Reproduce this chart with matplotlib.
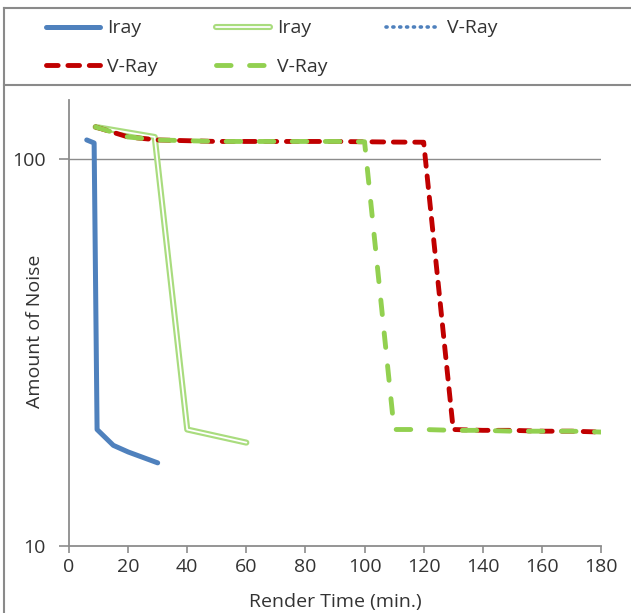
import matplotlib
matplotlib.use("Agg")
import matplotlib.pyplot as plt
import matplotlib.patheffects as pe
from matplotlib.lines import Line2D

plt.rcParams['font.family'] = ['Open Sans', 'DejaVu Sans']

# ---- data ----
iray_blue_x = [6, 8.5, 9.5, 15, 20, 30]
iray_blue_y = [112, 110, 20, 18.2, 17.5, 16.4]

iray_green_x = [9, 29, 40, 60]
iray_green_y = [121, 114, 20, 18.5]

vray_blue_x = []
vray_blue_y = []

vray_red_x = [9, 20, 30, 40, 50, 60, 70, 80, 90, 100, 110, 120, 130, 140, 150, 160, 170, 180]
vray_red_y = [121, 114, 112, 111.5, 111, 111, 111, 111, 111, 110.8, 110.6, 110.5,
              20.0, 19.9, 19.9, 19.8, 19.8, 19.7]

vray_green_x = [9, 20, 30, 40, 50, 60, 70, 80, 90, 100, 110, 120, 130, 140, 150, 160, 170, 180]
vray_green_y = [121, 114, 112, 111.5, 111, 111, 111, 111, 111, 110.8,
                20.0, 20.0, 19.9, 19.9, 19.8, 19.8, 19.8, 19.7]

labels = ["Iray", "Iray", "V-Ray", "V-Ray", "V-Ray"]
x_ticks = [0, 20, 40, 60, 80, 100, 120, 140, 160, 180]
y_ticks = [10, 100]

W, H = 631, 613
fig = plt.figure(figsize=(W / 100, H / 100), dpi=100)
ax = fig.add_axes([69 / W, 1 - 546 / H, (601 - 69) / W, (546 - 100) / H])

axis_col = "#8c8c8c"
txt_col = "#333333"
blue = "#4f81bd"
lgreen = "#a9dc7e"
red = "#c00000"
green = "#92d050"
fs = 14

l1, = ax.plot(iray_blue_x, iray_blue_y, color=blue, lw=3.6, solid_capstyle='round',
              solid_joinstyle='round', label=labels[0])
l2, = ax.plot(iray_green_x, iray_green_y, color="white", lw=1.3, solid_capstyle='round',
              label=labels[1],
              path_effects=[pe.Stroke(linewidth=4.4, foreground=lgreen, capstyle='round'), pe.Normal()])
l3, = ax.plot(vray_blue_x, vray_blue_y, color=blue, lw=2.6, linestyle=(0, (0.3, 1.6)),
              dash_capstyle='round', label=labels[2])
l4, = ax.plot(vray_red_x, vray_red_y, color=red, lw=3.5, linestyle=(0, (2.4, 2.0)),
              dash_capstyle='round', label=labels[3])
l5, = ax.plot(vray_green_x, vray_green_y, color=green, lw=3.5, linestyle=(0, (3.0, 3.8)),
              dash_capstyle='round', label=labels[4])

ax.set_yscale('log')
ax.set_xlim(0, 180)
ax.set_ylim(10, 10 ** (1 + (546 - 100) / 387))
ax.set_xticks(x_ticks)
ax.set_xticklabels([str(v) for v in x_ticks])
ax.set_yticks(y_ticks)
ax.set_yticklabels([str(v) for v in y_ticks])
ax.yaxis.set_minor_locator(matplotlib.ticker.NullLocator())

for s in ['top', 'right']:
    ax.spines[s].set_visible(False)
for s in ['left', 'bottom']:
    ax.spines[s].set_color(axis_col)
    ax.spines[s].set_linewidth(1.3)

ax.tick_params(axis='x', direction='out', length=5, width=1.2, color=axis_col,
               labelsize=fs, labelcolor=txt_col, pad=4)
ax.tick_params(axis='y', direction='out', length=7, width=1.2, color=axis_col,
               labelsize=fs, labelcolor=txt_col, pad=10)
ax.axhline(100, color=axis_col, lw=1.0, zorder=0)

ax.set_xlabel("Render Time (min.)", fontsize=fs, color=txt_col, labelpad=12)
ax.set_ylabel("Amount of Noise", fontsize=fs, color=txt_col)
ax.yaxis.set_label_coords((44 - 69) / 532, (546 - 331) / 446)

# row-major legend order for a 3-column legend
leg = fig.legend(handles=[l1, l4, l2, l5, l3],
                 labels=[labels[0], labels[3], labels[1], labels[4], labels[2]], ncol=3,
                 loc='upper left', bbox_to_anchor=(28 / W, 1 - 2 / H),
                 frameon=False, fontsize=fs, handlelength=2.8, handletextpad=0.35,
                 columnspacing=3.0, labelspacing=1.05)
for t in leg.get_texts():
    t.set_color(txt_col)

frame_col = "#8a8a8a"
fig.add_artist(Line2D([4 / W, 4 / W], [0, 1 - 8 / H], transform=fig.transFigure,
                      color=frame_col, lw=1.5))
fig.add_artist(Line2D([4 / W, 1], [1 - 8 / H, 1 - 8 / H], transform=fig.transFigure,
                      color=frame_col, lw=1.5))
fig.add_artist(Line2D([4 / W, 1], [1 - 85 / H, 1 - 85 / H], transform=fig.transFigure,
                      color=frame_col, lw=1.5))

fig.savefig("out.png", dpi=100)
